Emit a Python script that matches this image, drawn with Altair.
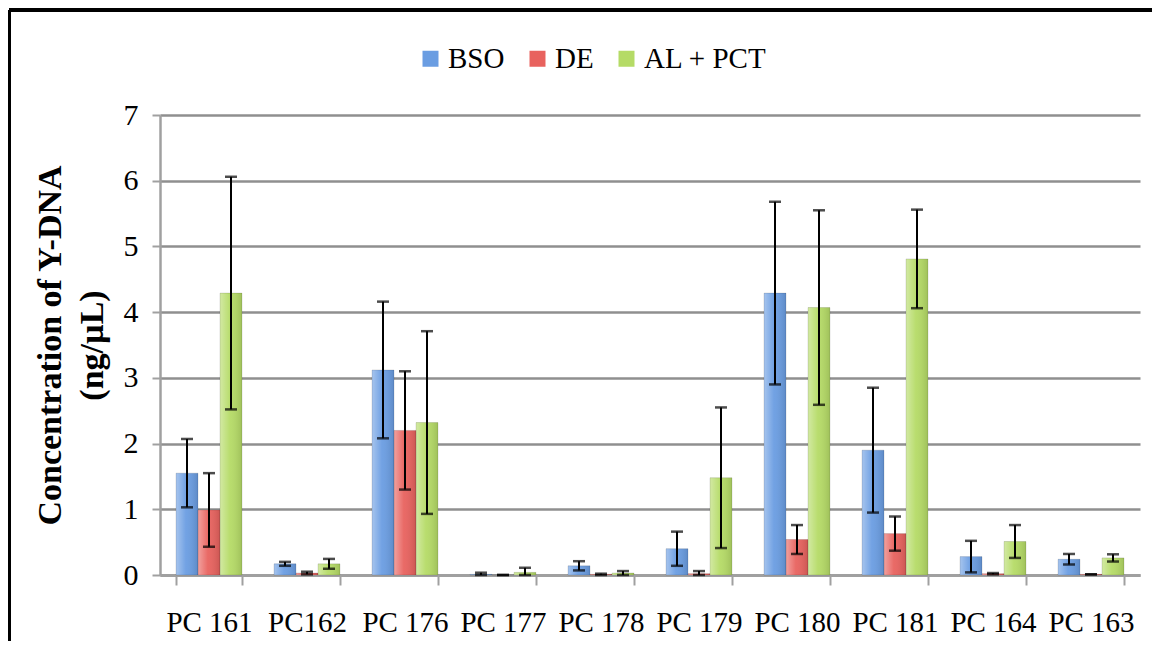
import altair as alt
import pandas as pd

categories = ["PC 161", "PC162", "PC 176", "PC 177", "PC 178",
              "PC 179", "PC 180", "PC 181", "PC 164", "PC 163"]
series = ["BSO", "DE", "AL + PCT"]

bso_val = [1.55, 0.17, 3.12, 0.01, 0.14, 0.40, 4.29, 1.90, 0.28, 0.24]
bso_err = [0.52, 0.03, 1.04, 0.025, 0.07, 0.26, 1.39, 0.95, 0.24, 0.08]
de_val = [0.99, 0.03, 2.20, 0.00, 0.01, 0.02, 0.54, 0.63, 0.02, 0.01]
de_err = [0.56, 0.02, 0.90, 0.00, 0.01, 0.04, 0.22, 0.26, 0.01, 0.00]
al_val = [4.29, 0.17, 2.32, 0.04, 0.03, 1.48, 4.07, 4.81, 0.51, 0.26]
al_err = [1.77, 0.075, 1.39, 0.07, 0.03, 1.07, 1.48, 0.75, 0.25, 0.055]

colors = ["#6a9de2", "#e8625e", "#b5db66"]

rows = []
for s, vals, errs in [("BSO", bso_val, bso_err), ("DE", de_val, de_err),
                      ("AL + PCT", al_val, al_err)]:
    for c, v, e in zip(categories, vals, errs):
        rows.append({"cat": c, "series": s, "val": v,
                     "lo": max(v - e, 0), "hi": v + e})
df = pd.DataFrame(rows)

FONT = "Liberation Serif"

x_enc = alt.X("cat:N", sort=categories, title=None,
              scale=alt.Scale(paddingInner=0.327, paddingOuter=0.1635),
              axis=alt.Axis(labelAngle=0, labelFont=FONT, labelFontSize=29,
                            labelColor="black", labelPadding=23,
                            tickBand="extent", tickSize=10, tickColor="#a0a0a0",
                            tickWidth=2, domainColor="#a0a0a0", domainWidth=3,
                            grid=False))
xo_enc = alt.XOffset("series:N", sort=series,
                     scale=alt.Scale(domain=series, paddingInner=0, paddingOuter=0))
y_scale = alt.Scale(domain=[0, 7], nice=False)

base = alt.Chart(df)

bars = base.mark_bar().encode(
    x=x_enc,
    xOffset=xo_enc,
    y=alt.Y("val:Q", scale=y_scale,
            axis=alt.Axis(values=[0, 1, 2, 3, 4, 5, 6, 7], format="d",
                          title=["Concentration of Y-DNA", "(ng/µL)"],
                          titleFont=FONT, titleFontSize=34, titleFontWeight="bold",
                          titleLineHeight=42, titlePadding=14, titleColor="black",
                          labelFont=FONT, labelFontSize=30, labelColor="black",
                          labelPadding=14, tickSize=8, tickColor="#a0a0a0",
                          tickWidth=2, domainColor="#a0a0a0", domainWidth=2.5,
                          grid=True, gridColor="#8f8f8f", gridWidth=2.5)),
    color=alt.Color("series:N", sort=series,
                    scale=alt.Scale(domain=series, range=colors),
                    legend=alt.Legend(title=None, orient="none", direction="horizontal",
                                      legendX=256, legendY=-71,
                                      labelFont=FONT, labelFontSize=29,
                                      labelColor="black", symbolType="square",
                                      symbolSize=256, symbolStrokeWidth=0,
                                      columnPadding=18, labelOffset=3,
                                      labelLimit=400)),
)

shade = base.mark_bar(
    fill=alt.Gradient(
        gradient="linear", x1=0, x2=1, y1=0, y2=0,
        stops=[alt.GradientStop(color="rgba(255,255,255,0.40)", offset=0),
               alt.GradientStop(color="rgba(255,255,255,0.05)", offset=0.45),
               alt.GradientStop(color="rgba(0,0,0,0.12)", offset=1)]),
    stroke="rgba(0,0,0,0.12)", strokeWidth=1,
).encode(x=x_enc, xOffset=xo_enc, y=alt.Y("val:Q", scale=y_scale))

rules = base.mark_rule(color="black", strokeWidth=2).encode(
    x=x_enc, xOffset=xo_enc,
    y=alt.Y("lo:Q", scale=y_scale), y2="hi:Q")

cap_hi = base.mark_tick(color="black", thickness=2.5, size=12).encode(
    x=x_enc, xOffset=xo_enc, y=alt.Y("hi:Q", scale=y_scale))
cap_lo = base.mark_tick(color="black", thickness=2.5, size=12).encode(
    x=x_enc, xOffset=xo_enc, y=alt.Y("lo:Q", scale=y_scale))

frame_left = alt.Chart(df).mark_rule(color="black", strokeWidth=2.5).encode(
    x=alt.value(-151), y=alt.value(-105), y2=alt.value(540))
frame_top = alt.Chart(df).mark_rule(color="black", strokeWidth=2.5).encode(
    x=alt.value(-151), x2=alt.value(1000), y=alt.value(-105))

chart = alt.layer(bars, shade, rules, cap_hi, cap_lo, frame_left, frame_top).properties(
    width=980, height=460,
    autosize=alt.AutoSizeParams(type="none"),
    padding={"left": 152, "top": 107, "right": 12, "bottom": 66},
    background="white",
).configure_view(strokeWidth=0)

chart.save("out.html", embed_options={"renderer": "svg", "actions": False})
